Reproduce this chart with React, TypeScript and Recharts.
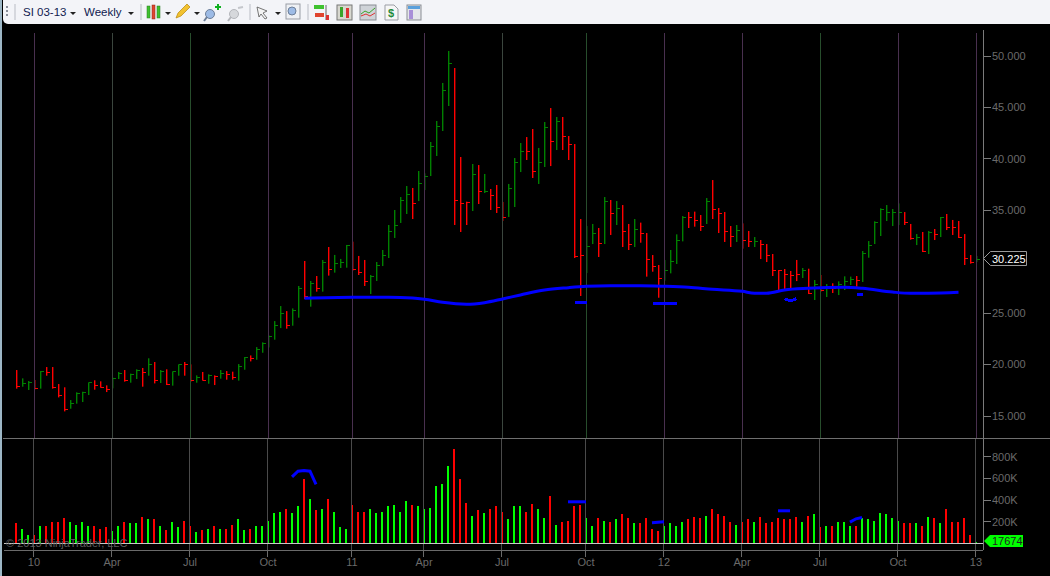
import { Bar, ComposedChart, Line, ReferenceLine, XAxis, YAxis } from 'recharts';

const highs = [
  19.47, 18.66, 18.4, 18.5, 19.37, 19.76, 19.76, 18.11, 17.79, 16.55,
  17.3, 17.36, 18.27, 18.47, 18.37, 17.98, 18.73, 19.28, 19.47, 19.12,
  19.54, 19.67, 20.61, 20.25, 19.47, 19.54, 19.34, 20.02, 20.25, 20.02,
  18.95, 19.28, 19.05, 18.95, 19.47, 19.37, 19.31, 20.05, 20.73, 20.89,
  21.7, 22.16, 22.84, 24.23, 25.69, 25.2, 25.46, 27.64, 30.07, 28.13,
  28.61, 30.17, 31.43, 30.66, 30.27, 31.63, 31.95, 30.56, 30.17, 28.71,
  29.97, 31.14, 33.57, 35.03, 36.29, 37.36, 37.17, 38.82, 38.59, 41.64,
  43.68, 47.38, 50.49, 48.83, 40.18, 35.84, 39.5, 39.4, 38.53, 37.07,
  37.46, 35.81, 37.56, 40.08, 41.54, 42.12, 42.9, 41.06, 43.58, 44.94,
  44.07, 44.07, 42.22, 41.44, 34.15, 33.47, 33.67, 33.28, 36.29, 36.0,
  35.9, 35.51, 33.67, 34.15, 33.8, 32.79, 30.65, 29.68, 30.17, 31.14,
  32.66, 34.44, 34.83, 34.87, 34.54, 36.19, 37.94, 35.22, 34.83, 33.47,
  33.57, 33.73, 32.99, 32.4, 32.11, 31.72, 30.75, 29.19, 29.29, 29.1,
  30.17, 29.39, 29.32, 28.22, 28.71, 27.83, 27.9, 28.09, 28.58, 28.55,
  28.61, 31.04, 32.01, 33.93, 35.19, 35.51, 35.12, 35.67, 34.83, 33.67,
  32.69, 32.89, 32.99, 33.18, 34.35, 34.64, 34.06, 33.96, 32.69, 30.65,
  30.56,
];

const lows = [
  17.66, 17.85, 17.53, 17.59, 17.66, 18.92, 17.66, 16.81, 15.45, 15.71,
  16.2, 16.36, 17.04, 17.56, 17.75, 17.33, 17.69, 18.6, 18.34, 18.24,
  18.6, 17.85, 18.92, 18.17, 18.21, 18.01, 17.95, 18.92, 18.92, 18.34,
  18.24, 18.44, 18.14, 18.01, 18.63, 18.53, 18.53, 18.44, 19.5, 20.31,
  20.47, 21.15, 21.67, 22.42, 23.55, 23.49, 23.78, 24.56, 26.38, 25.63,
  27.09, 27.09, 28.65, 28.94, 29.39, 29.42, 29.13, 28.71, 27.64, 26.86,
  28.13, 29.58, 30.36, 32.31, 33.77, 34.64, 34.15, 35.9, 36.97, 38.33,
  40.28, 42.71, 45.14, 33.57, 32.89, 33.57, 34.93, 35.61, 36.68, 35.03,
  34.74, 33.96, 34.35, 35.32, 38.72, 39.89, 38.14, 37.56, 39.21, 39.3,
  40.86, 40.86, 39.89, 30.36, 26.67, 28.9, 31.72, 30.46, 31.72, 32.6,
  33.57, 31.43, 31.14, 31.43, 31.85, 28.55, 29.03, 26.5, 28.16, 28.87,
  29.78, 31.98, 33.28, 33.41, 32.99, 33.67, 34.15, 32.79, 31.92, 31.43,
  31.92, 31.27, 31.43, 31.43, 30.26, 29.97, 28.61, 27.25, 27.25, 27.25,
  28.12, 28.42, 26.86, 26.28, 27.09, 26.57, 26.96, 26.76, 27.25, 27.74,
  27.57, 28.03, 30.39, 31.72, 32.5, 33.96, 33.47, 33.57, 33.57, 32.14,
  31.62, 30.94, 30.75, 32.11, 32.4, 33.08, 32.6, 32.31, 29.68, 29.81,
  29.97,
];

const closes = [
  17.88, 18.17, 18.27, 17.66, 19.34, 19.24, 17.75, 17.0, 15.61, 16.26,
  17.23, 17.3, 18.21, 17.92, 17.82, 17.62, 18.66, 19.18, 18.44, 19.02,
  19.47, 19.21, 20.05, 18.44, 19.37, 18.08, 19.28, 19.96, 19.96, 18.44,
  18.79, 18.47, 18.95, 18.82, 19.14, 19.08, 18.79, 19.86, 20.67, 20.63,
  21.51, 22.09, 22.74, 23.78, 24.98, 23.78, 25.3, 27.41, 26.64, 27.9,
  27.38, 29.94, 29.26, 29.78, 29.97, 31.56, 29.26, 28.97, 28.1, 28.61,
  29.65, 30.62, 32.95, 33.54, 35.97, 36.55, 35.68, 37.62, 38.33, 41.22,
  43.17, 46.66, 49.29, 35.97, 35.68, 35.77, 38.49, 36.84, 36.87, 36.39,
  35.29, 34.31, 37.13, 39.66, 40.73, 40.73, 38.79, 39.69, 43.07, 41.64,
  43.68, 42.22, 41.41, 30.46, 30.62, 31.46, 32.79, 31.82, 35.87, 34.64,
  35.22, 32.98, 31.63, 33.18, 32.76, 30.23, 29.58, 28.38, 29.13, 30.0,
  32.08, 34.28, 34.28, 33.99, 33.47, 35.81, 35.12, 34.64, 32.95, 32.5,
  32.99, 32.05, 31.92, 32.01, 31.72, 30.65, 29.19, 29.1, 28.71, 28.67,
  28.71, 29.1, 26.93, 27.74, 27.25, 27.51, 27.44, 27.74, 28.12, 28.29,
  28.22, 30.81, 31.62, 33.86, 35.09, 34.83, 34.83, 34.83, 33.8, 32.27,
  32.31, 31.01, 32.86, 32.69, 34.31, 33.37, 33.28, 32.4, 30.36, 29.97,
  30.225,
];

// thousands of contracts
const volumes = [
  188, 138, 83, 74, 166, 157, 194, 194, 231, 203,
  175, 203, 157, 166, 138, 148, 120, 157, 194, 185,
  185, 249, 222, 222, 157, 129, 194, 148, 212, 157,
  102, 129, 138, 157, 138, 138, 175, 222, 129, 138,
  166, 166, 212, 286, 295, 314, 286, 342, 600, 415,
  305, 323, 415, 295, 148, 138, 360, 295, 295, 323,
  286, 295, 342, 351, 295, 397, 360, 342, 323, 332,
  535, 545, 720, 877, 591, 378, 258, 305, 286, 314,
  342, 295, 222, 342, 342, 295, 369, 323, 240, 443,
  175, 194, 212, 342, 351, 240, 157, 231, 212, 194,
  222, 268, 231, 185, 185, 240, 138, 111, 157, 185,
  166, 203, 222, 249, 231, 258, 314, 268, 258, 203,
  175, 194, 222, 203, 249, 185, 194, 240, 222, 222,
  249, 194, 258, 268, 148, 166, 166, 203, 194, 157,
  157, 240, 222, 212, 286, 268, 240, 212, 185, 185,
  185, 157, 249, 231, 185, 314, 203, 194, 240, 83,
  17.674,
];

const directions = [
  'r', 'g', 'g', 'r', 'g', 'r', 'r', 'r', 'r', 'g',
  'g', 'g', 'g', 'r', 'r', 'r', 'g', 'g', 'r', 'g',
  'g', 'r', 'g', 'r', 'g', 'r', 'g', 'g', 'r', 'r',
  'g', 'r', 'g', 'r', 'g', 'r', 'r', 'g', 'g', 'r',
  'g', 'g', 'g', 'g', 'g', 'r', 'g', 'g', 'r', 'g',
  'r', 'g', 'r', 'g', 'g', 'g', 'r', 'r', 'r', 'g',
  'g', 'g', 'g', 'g', 'g', 'g', 'r', 'g', 'g', 'g',
  'g', 'g', 'g', 'r', 'r', 'r', 'g', 'r', 'g', 'r',
  'r', 'r', 'g', 'g', 'g', 'r', 'r', 'g', 'g', 'r',
  'g', 'r', 'r', 'r', 'r', 'g', 'g', 'r', 'g', 'r',
  'g', 'r', 'r', 'g', 'r', 'r', 'r', 'r', 'g', 'g',
  'g', 'g', 'r', 'r', 'r', 'g', 'r', 'r', 'r', 'r',
  'g', 'r', 'r', 'g', 'r', 'r', 'r', 'r', 'r', 'r',
  'r', 'g', 'r', 'g', 'r', 'g', 'r', 'g', 'g', 'g',
  'r', 'g', 'g', 'g', 'g', 'g', 'g', 'g', 'r', 'r',
  'g', 'r', 'g', 'r', 'g', 'r', 'r', 'r', 'r', 'r',
  'g',
];

// hand drawn blue curve on the price pane: [week, price]
const drawnCurve = [
  [48, 26.44], [56, 26.54], [62, 26.54], [66, 26.47], [68, 26.35], [71, 26.05], [75, 25.86],
  [78, 26.02], [81, 26.38], [84, 26.77], [88, 27.25], [92, 27.48], [95, 27.61], [99, 27.67],
  [104, 27.67], [108, 27.61], [112, 27.51], [116, 27.32], [121, 27.12], [123, 26.93], [125, 26.93],
  [128, 27.25], [132, 27.41], [138, 27.51], [141, 27.41], [146, 27.05], [149, 26.93], [152, 26.93],
  [157, 27.02],
];

// short hand drawn strokes, one list per stroke: [week, value]
const priceStrokes = [
  [[93, 26.05], [95, 26.05]],
  [[106, 25.95], [110, 25.95]],
  [[128, 26.4], [129, 26.2], [130, 26.4]],
  [[140, 26.83], [141, 26.83]],
];
const volumeStrokes = [
  [[46, 615], [47, 668], [48, 674], [49, 668], [50, 545]],
  [[92, 385], [95, 385]],
  [[106, 191], [108, 200]],
  [[127, 302], [129, 302]],
  [[139, 197], [140, 228], [141, 240]],
];

const axisWeeks = [3, 16, 29, 42, 56, 68, 81, 95, 108, 121, 134, 147, 160];
const axisLabels = ['10', 'Apr', 'Jul', 'Oct', '11', 'Apr', 'Jul', 'Oct', '12', 'Apr', 'Jul', 'Oct', '13'];
const gridTints = ['#49304f', '#3b463e', '#274d2c', '#49304f', '#49304f', '#49304f', '#3b463e', '#274d2c', '#49304f', '#49304f', '#274d2c', '#49304f', '#49304f'];
// 30.000 sits under the last price tag in the reference
const priceTicks = [15, 20, 25, 35, 40, 45, 50];
const volumeTicks = [200, 400, 600, 800];

const RED = '#ff0000';
const DARK_GREEN = '#008000';
const LIME = '#00ff00';
const BLUE = '#0000ff';
const AXIS_GREY = '#7a7a7a';
const LABEL_GREY = '#6a6a6a';

const rows: any[] = highs.map((high, week) => ({
  week,
  range: [lows[week], high],
  high,
  low: lows[week],
  close: closes[week],
  volumeUp: directions[week] === 'g' ? volumes[week] : null,
  volumeDown: directions[week] === 'r' ? volumes[week] : null,
  direction: directions[week],
}));
drawnCurve.forEach(([week, price]) => {
  rows[week].curve = price;
});
priceStrokes.forEach((stroke, n) => stroke.forEach(([week, value]) => {
  rows[week][`p${n}`] = value;
}));
volumeStrokes.forEach((stroke, n) => stroke.forEach(([week, value]) => {
  rows[week][`v${n}`] = value;
}));

function HiLoClose(props: any) {
  const { x, y, height, payload } = props;
  const top = Math.min(y, y + height);
  const span = Math.abs(height);
  const closeY = top + ((payload.high - payload.close) / (payload.high - payload.low)) * span;
  const color = payload.direction === 'r' ? RED : DARK_GREEN;
  const left = Math.floor(x);
  return (
    <g>
      <rect x={left} y={top} width={1.4} height={span} fill={color} shapeRendering="geometricPrecision" />
      <rect x={left + 1} y={closeY - 0.5} width={3} height={1} fill={color} />
    </g>
  );
}

function ToolbarIcons() {
  return (
    <svg width={1050} height={24} style={{ position: 'absolute', left: 0, top: 0 }}>
      <line x1={15} y1={4} x2={15} y2={20} stroke="#b9bcc4" />
      <line x1={141} y1={4} x2={141} y2={20} stroke="#b9bcc4" />
      <line x1={250} y1={4} x2={250} y2={20} stroke="#b9bcc4" />
      <line x1={308} y1={4} x2={308} y2={20} stroke="#b9bcc4" />
      {[6, 10, 14].map((y) => <rect key={y} x={6} y={y} width={2} height={2} fill="#8a8f9a" />)}
      {[[70, 13], [128, 13], [165, 13], [194, 13], [275, 13]].map(([x, y]) => (
        <path key={x} d={`M${x} ${y - 1}h6l-3 3z`} fill="#222" />
      ))}
      <text x={23} y={16} fontSize={11.5} fill="#10204f" fontFamily="Liberation Sans">SI 03-13</text>
      <text x={84} y={16} fontSize={11.5} fill="#10204f" fontFamily="Liberation Sans">Weekly</text>
      <rect x={147} y={6} width={3} height={12} fill="#3fc22f" stroke="#2b7a20" strokeWidth={0.5} />
      <rect x={152} y={5} width={3} height={14} fill="#e0452f" stroke="#8c2a1a" strokeWidth={0.5} />
      <rect x={157} y={6} width={3} height={12} fill="#3fc22f" stroke="#2b7a20" strokeWidth={0.5} />
      <path d="M176 18l2-5 9-9 3 3-9 9z" fill="#f2c230" stroke="#b8860b" strokeWidth={0.7} />
      <circle cx={210} cy={14} r={4.5} fill="#9dbbe6" stroke="#6d7f99" />
      <line x1={207} y1={17} x2={204} y2={21} stroke="#6d7f99" strokeWidth={2} />
      <path d="M215 7h6M218 4v6" stroke="#10b020" strokeWidth={2} />
      <circle cx={234} cy={14} r={4.5} fill="#d6d8dc" stroke="#b4b6bb" />
      <line x1={231} y1={17} x2={228} y2={21} stroke="#b4b6bb" strokeWidth={2} />
      <line x1={238} y1={8} x2={243} y2={7} stroke="#c4c6cb" strokeWidth={2} />
      <path d="M257 7l10 4-4 2 4 5-2 1-4-5-2 3z" fill="#f4f4f4" stroke="#555" strokeWidth={0.8} />
      <rect x={286} y={4} width={14} height={15} fill="#eef0f4" stroke="#9a9da5" />
      <circle cx={292} cy={11} r={4} fill="#9dbbe6" stroke="#6d7f99" />
      <rect x={314} y={5} width={10} height={4} fill="#3fc22f" />
      <rect x={315} y={13} width={9} height={4} fill="#e0452f" />
      <line x1={326} y1={5} x2={326} y2={20} stroke="#666" />
      <rect x={326} y={15} width={3} height={5} fill="#d33" />
      <rect x={337} y={5} width={15} height={15} fill="#d8d8d0" stroke="#777" />
      <rect x={340} y={7} width={3} height={10} fill="#3aa52a" />
      <rect x={346} y={8} width={3} height={10} fill="#d33" />
      <rect x={360} y={5} width={16} height={15} fill="#cfd3d8" stroke="#8a8d93" />
      <path d="M361 14l4-3 4 2 6-5" stroke="#3aa52a" fill="none" />
      <path d="M361 16l5-2 4 2 5-3" stroke="#d33" fill="none" />
      <path d="M385 5h9l4 4v11h-13z" fill="#f6f6f6" stroke="#9a9da5" />
      <text x={388} y={17} fontSize={11} fontWeight="bold" fill="#1f8a3a" fontFamily="Liberation Sans">$</text>
      <rect x={407} y={5} width={14} height={15} fill="#e4e6ea" stroke="#8a8d93" />
      <rect x={408} y={6} width={12} height={3} fill="#5aa0dc" />
      <rect x={409} y={10} width={4} height={9} fill="#a88fd8" />
    </svg>
  );
}

export default function App() {
  const tick = { fill: LABEL_GREY, fontSize: 11, fontFamily: 'Liberation Sans' };
  return (
    <div style={{ position: 'absolute', left: 0, top: 0, width: 1050, height: 576, background: '#000', overflow: 'hidden' }}>
      <div style={{ position: 'absolute', left: 0, top: 0, shapeRendering: 'crispEdges' }}>
        <ComposedChart width={1050} height={438} data={rows} margin={{ top: 30, right: 0, bottom: 0, left: 4.5 }}>
          <XAxis type="number" dataKey="week" domain={[-2, 161.083]} hide allowDuplicatedCategory={false} />
          <YAxis
            orientation="right"
            width={67}
            domain={[12.862, 52.528]}
            ticks={priceTicks}
            tickFormatter={(v: number) => v.toFixed(3)}
            tick={tick}
            tickSize={8}
            tickMargin={1}
            stroke={AXIS_GREY}
          />
          {axisWeeks.map((week, n) => (
            <ReferenceLine key={week} x={week} stroke={gridTints[n]} />
          ))}
          <Bar dataKey="range" barSize={1} shape={HiLoClose} isAnimationActive={false} />
          <Line dataKey="curve" type="monotone" connectNulls dot={false} stroke={BLUE} strokeWidth={3} isAnimationActive={false} style={{ shapeRendering: 'auto' }} />
          {priceStrokes.map((_, n) => (
            <Line key={n} dataKey={`p${n}`} connectNulls dot={false} stroke={BLUE} strokeWidth={3} isAnimationActive={false} />
          ))}
        </ComposedChart>
      </div>

      <div style={{ position: 'absolute', left: 0, top: 438, shapeRendering: 'crispEdges' }}>
        <ComposedChart width={1050} height={138} data={rows} margin={{ top: 0, right: 0, bottom: 0, left: 4 }}>
          <XAxis
            type="number"
            dataKey="week"
            domain={[-2, 161.167]}
            ticks={axisWeeks}
            tickFormatter={(v: number) => axisLabels[axisWeeks.indexOf(v)]}
            tick={tick}
            tickSize={7}
            tickMargin={1}
            height={26}
            stroke="#6a6a6a"
          />
          <YAxis
            orientation="right"
            width={67}
            domain={[-60, 974.2]}
            ticks={volumeTicks}
            tickFormatter={(v: number) => `${v}K`}
            tick={tick}
            tickSize={8}
            tickMargin={1}
            stroke={AXIS_GREY}
          />
          {axisWeeks.map((week) => (
            <ReferenceLine key={week} x={week} stroke="#4a4a4a" />
          ))}
          <Bar dataKey="volumeUp" stackId="volume" barSize={2} fill={LIME} isAnimationActive={false} />
          <Bar dataKey="volumeDown" stackId="volume" barSize={2} fill={RED} isAnimationActive={false} />
          <ReferenceLine y={0} stroke="#c8c8c8" />
          {volumeStrokes.map((_, n) => (
            <Line key={n} dataKey={`v${n}`} connectNulls dot={false} stroke={BLUE} strokeWidth={3} isAnimationActive={false} style={{ shapeRendering: 'auto' }} />
          ))}
        </ComposedChart>
      </div>

      {/* pane divider, gridlines start a little under the axis top */}
      <div style={{ position: 'absolute', left: 3, top: 438, width: 1047, height: 1, background: '#6f6f6f' }} />
      <div style={{ position: 'absolute', left: 0, top: 24, width: 983, height: 9, background: '#000' }} />

      {/* toolbar */}
      <div style={{ position: 'absolute', left: 3, top: 0, width: 1047, height: 24, background: '#f3f4f8', borderBottomLeftRadius: 5 }} />
      <ToolbarIcons />
      <div style={{ position: 'absolute', left: 0, top: 0, width: 2, height: 576, background: '#9db7c6' }} />

      <div style={{ position: 'absolute', left: 6, top: 537, color: '#5c5c5c', fontSize: 11, fontFamily: 'Liberation Sans', whiteSpace: 'nowrap' }}>
        © 2013 NinjaTrader, LLC
      </div>

      {/* last value tags */}
      <svg width={67} height={320} style={{ position: 'absolute', left: 983, top: 240 }}>
        <path d="M0.5 18.5L7.5 11.5H43.5V25.5H7.5Z" fill="#000" stroke="#9a9a9a" />
        <text x={9} y={22.5} fontSize={11} fill="#fff" fontFamily="Liberation Sans">30.225</text>
        <path d="M1 301L7 295H40V307H7Z" fill={LIME} />
        <text x={9} y={305} fontSize={11} fill="#222" fontFamily="Liberation Sans">17674</text>
      </svg>
    </div>
  );
}
